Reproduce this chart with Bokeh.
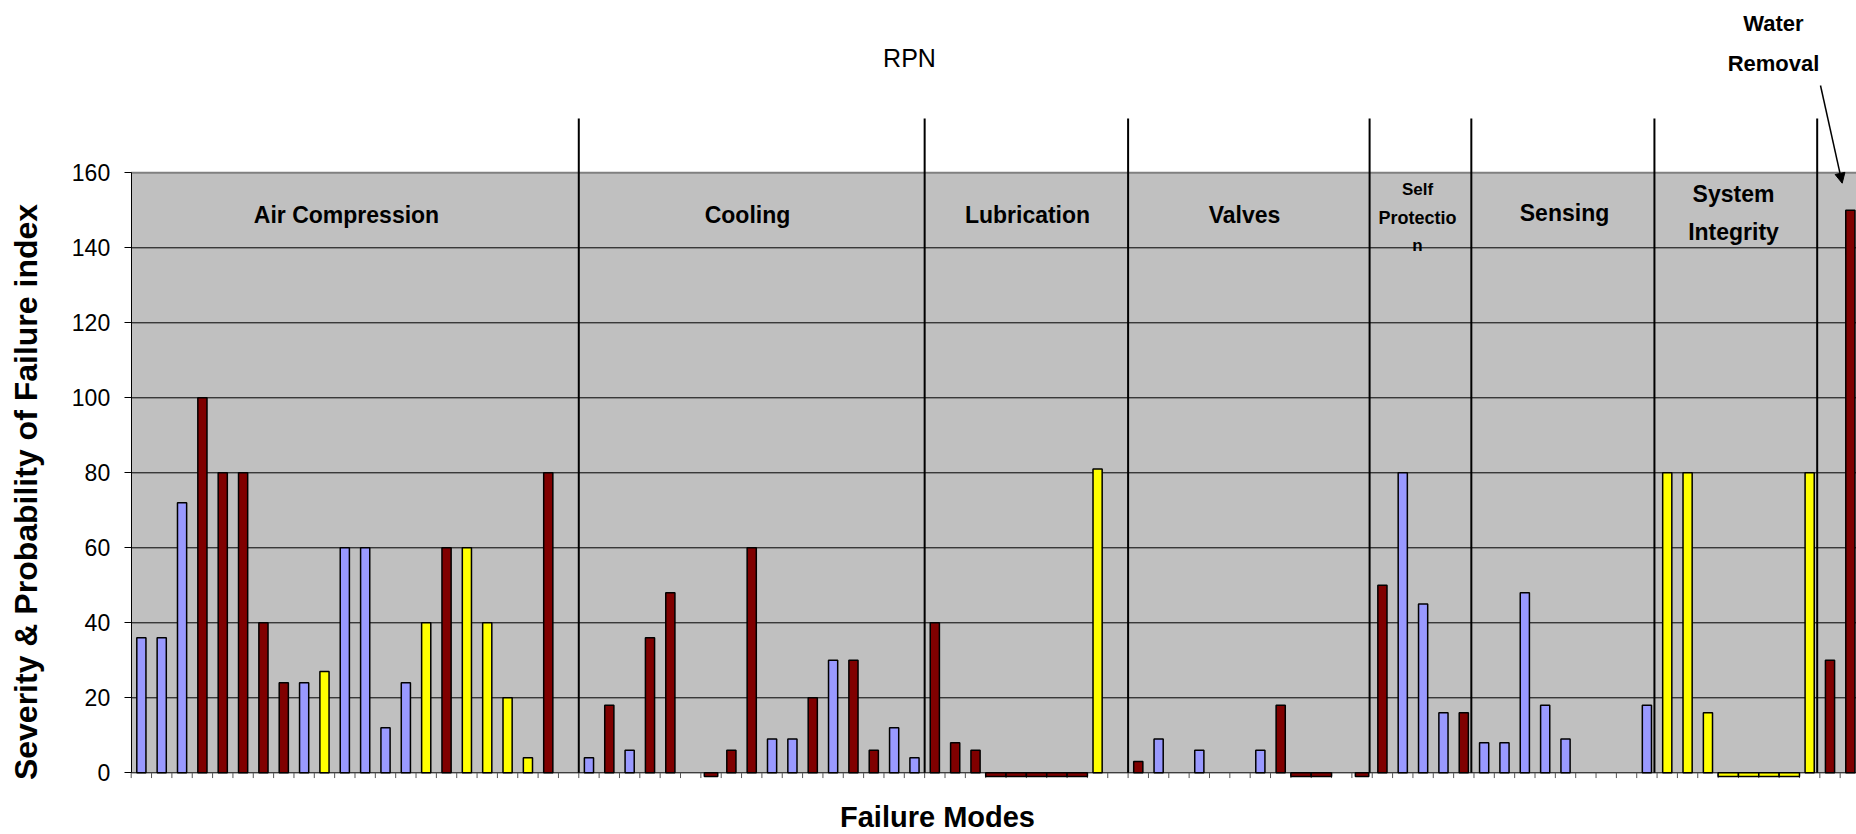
import numpy as np
from bokeh.plotting import figure
from bokeh.models import Range1d, FixedTicker, Label, Arrow, NormalHead, ColumnDataSource
from bokeh.embed import file_html
from bokeh.resources import INLINE

# ---------------- data ----------------
section_names = ["Air Compression", "Cooling", "Lubrication", "Valves",
                 "Self Protection", "Sensing", "System Integrity", "Water Removal"]

air_compression = [36, 36, 72, 100, 80, 80, 40, 24, 24, 27, 60, 60, 12, 24, 40, 60, 60, 40, 20, 4, 80, None]
air_compression_series = "BBBRRRRRBYBBBBYRYYYYR-"
cooling = [4, 18, 6, 36, 48, None, -1, 6, 60, 9, 9, 20, 30, 30, 6, 12, 4]
cooling_series = "BRBRR-RRRBBRBRRBB"
lubrication = [40, 8, 6, -1, -1, -1, -1, -1, 81, None]
lubrication_series = "RRRRRRRRY-"
valves = [3, 9, None, 6, None, None, 6, 18, -1, -1, None, -1]
valves_series = "RB-B--BRRR-R"
self_protection = [50, 80, 45, 16, 16]
self_protection_series = "RBBBR"
sensing = [8, 8, 48, 18, 9, None, None, None, 18]
sensing_series = "BBBBB---B"
system_integrity = [80, 80, 16, -1, -1, -1, -1, 80]
system_integrity_series = "YYYYYYYY"
water_removal = [30, 150]
water_removal_series = "RR"

y_ticks = [0, 20, 40, 60, 80, 100, 120, 140, 160]

section_values = [air_compression, cooling, lubrication, valves,
                  self_protection, sensing, system_integrity, water_removal]
section_series = [air_compression_series, cooling_series, lubrication_series, valves_series,
                  self_protection_series, sensing_series, system_integrity_series,
                  water_removal_series]

# ---------------- styling ----------------
COLORS = {"B": "#9999FF", "R": "#800000", "Y": "#FFFF00"}
GRAY = "#C0C0C0"
SANS = "Liberation Sans"

all_vals, all_ser = [], []
for vals, ser in zip(section_values, section_series):
    all_vals += vals
    all_ser += list(ser)
n_cat = len(all_vals)
bounds = np.cumsum([0] + [len(v) for v in section_values])

xs, tops, cols, widths = [], [], [], []
for i, (v, s) in enumerate(zip(all_vals, all_ser)):
    if v is None:
        continue
    xs.append(i + 0.5)
    tops.append(v)
    cols.append(COLORS[s])
    if v < 0:
        left_neg = i > 0 and all_vals[i - 1] is not None and all_vals[i - 1] < 0
        right_neg = i < n_cat - 1 and all_vals[i + 1] is not None and all_vals[i + 1] < 0
        widths.append(1.0 if (left_neg or right_neg) else 0.66)
    else:
        widths.append(0.45)

src = ColumnDataSource(dict(x=xs, top=tops, color=cols, w=widths))

W, H = 1856, 834
PXX = 20.345          # px per category
PX = 3.75             # px per value unit
X0_PAGE = 130.7       # page x of category boundary 0
BASE_PAGE = 772.3     # page y of value 0
x_start = -X0_PAGE / PXX
x_end = x_start + W / PXX
y_top = BASE_PAGE / PX
y_bot = y_top - H / PX

p = figure(width=W, height=H, output_backend="svg", toolbar_location=None,
           x_range=Range1d(x_start, x_end), y_range=Range1d(y_bot, y_top),
           x_axis_location=None, min_border_left=0, min_border_right=0,
           min_border_top=0, min_border_bottom=0)
p.outline_line_color = None
p.xgrid.visible = False
p.ygrid.visible = False
p.background_fill_color = "white"
p.border_fill_color = "white"

# plot area background
p.quad(left=[0], right=[n_cat], bottom=[0], top=[y_ticks[-1]], fill_color=GRAY, line_color=None)
# gridlines
p.segment(x0=[0] * (len(y_ticks) - 2), x1=[n_cat] * (len(y_ticks) - 2),
          y0=y_ticks[1:-1], y1=y_ticks[1:-1], line_color="black", line_width=1)
p.segment(x0=[0], x1=[n_cat], y0=[y_ticks[-1]], y1=[y_ticks[-1]], line_color="#808080", line_width=2)
# category axis line and ticks
p.segment(x0=[0], x1=[n_cat], y0=[0], y1=[0], line_color="black", line_width=1)
tick_x = list(range(n_cat + 1))
p.segment(x0=tick_x, x1=tick_x, y0=[0] * len(tick_x), y1=[-1.4] * len(tick_x),
          line_color="#555555", line_width=1)

# bars
p.vbar(x="x", top="top", bottom=0, width="w", fill_color="color", line_color="black",
       line_width=1.5, source=src)

# section dividers (hand-drawn lines sit slightly left of later boundaries)
div_x = [float(b) - (0.13 if 2 < k < 7 else 0.0) for k, b in enumerate(bounds[1:-1])]
p.segment(x0=div_x, x1=div_x, y0=[0] * len(div_x), y1=[174.5] * len(div_x),
          line_color="black", line_width=2)

# y axis (drawn at category boundary 0)
p.yaxis.fixed_location = 0
p.yaxis.bounds = (0, 160)
p.yaxis.ticker = FixedTicker(ticks=y_ticks)
p.yaxis.major_tick_out = 7
p.yaxis.major_tick_in = 0
p.yaxis.minor_tick_line_color = None
p.yaxis.axis_line_color = "black"
p.yaxis.major_tick_line_color = "black"
p.yaxis.major_label_text_font = SANS
p.yaxis.major_label_text_font_size = "23px"
p.yaxis.major_label_text_color = "black"
p.yaxis.major_label_standoff = 14

SHIFT = 0.35  # compensates the renderer's baseline placement (in em)


def py(page_y):
    return (BASE_PAGE - page_y) / PX


def pxc(page_x):
    return (page_x - X0_PAGE) / PXX


def add_text(page_x, page_base, text, size, bold=True):
    p.add_layout(Label(x=pxc(page_x), y=py(page_base - SHIFT * size), text=text,
                       text_font=SANS, text_font_size=f"{size}px",
                       text_font_style="bold" if bold else "normal", text_color="black",
                       text_align="center", text_baseline="alphabetic"))


add_text(346, 223, "Air Compression", 23)
add_text(747, 223, "Cooling", 23)
add_text(1027, 223, "Lubrication", 23)
add_text(1244, 223, "Valves", 23)
add_text(1417, 195, "Self", 17)
add_text(1417, 224, "Protectio", 18)
add_text(1417, 251, "n", 17)
add_text(1564, 221, "Sensing", 23)
add_text(1733, 202, "System", 23)
add_text(1733, 240, "Integrity", 23)
add_text(1773, 31, "Water", 22)
add_text(1773, 71, "Removal", 22)
add_text(909, 66, "RPN", 25, bold=False)
add_text(937, 827, "Failure Modes", 29)

# y axis title (rotated)
TITLE_SIZE = 32
p.add_layout(Label(x=pxc(36.7 - SHIFT * TITLE_SIZE), y=py(491.5),
                   text="Severity & Probability of Failure index", text_font=SANS,
                   text_font_size=f"{TITLE_SIZE}px", text_font_style="bold", text_color="black",
                   text_align="center", text_baseline="alphabetic", angle=np.pi / 2))

p.add_layout(Arrow(end=NormalHead(size=10, fill_color="black", line_color="black"),
                   x_start=pxc(1820), y_start=py(85), x_end=pxc(1841.7), y_end=py(182.7),
                   line_color="black", line_width=1.5))

open("out.html", "w").write(file_html(p, INLINE))
